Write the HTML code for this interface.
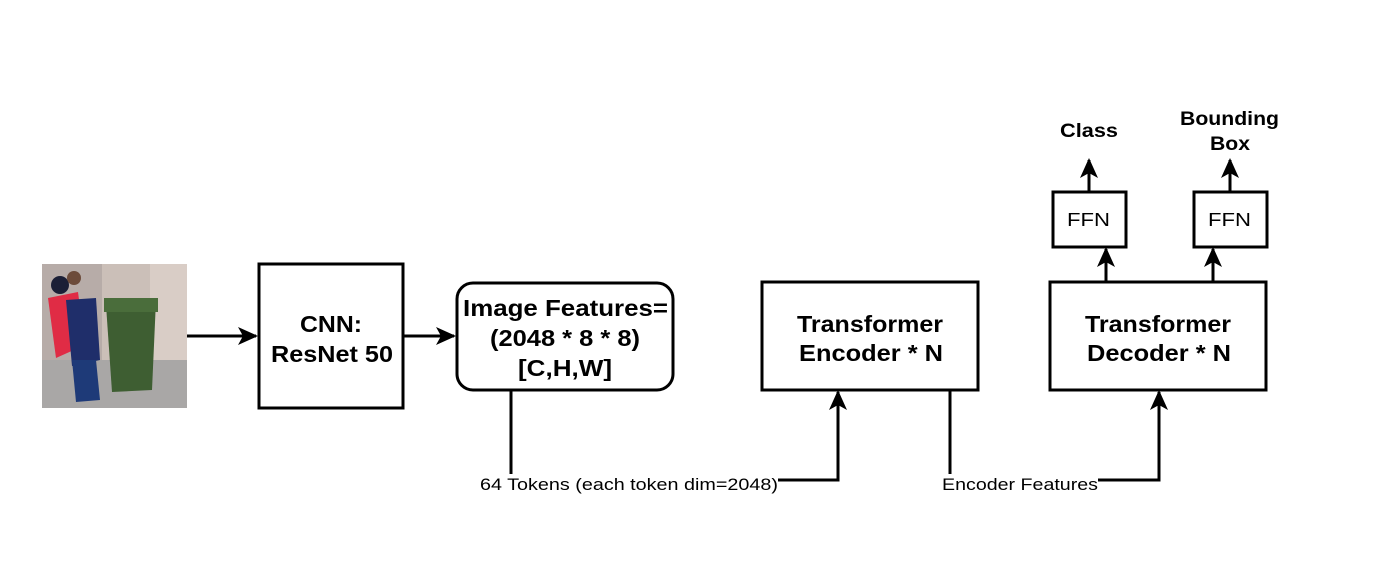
<!DOCTYPE html>
<html><head><meta charset="utf-8"><style>
body{margin:0;background:#fff;}
svg{display:block;font-family:"Liberation Sans",Arial,sans-serif;}
</style></head><body>
<svg width="1384" height="568" viewBox="0 0 1384 568">
<defs>
<marker id="b" viewBox="0 0 20 20" markerWidth="20" markerHeight="20" refX="18" refY="10" orient="auto" markerUnits="userSpaceOnUse"><path d="M0,1 L20,10 L0,19 L5,10 z" fill="#000"/></marker>
</defs>
<!-- photo -->
<rect x="42" y="264" width="145" height="144" fill="#cbbfb8"/>
<rect x="42" y="264" width="60" height="144" fill="#b7aca8"/>
<rect x="150" y="264" width="37" height="144" fill="#d9cdc6"/>
<rect x="42" y="360" width="145" height="48" fill="#a9a7a6"/>
<path d="M106,305 L156,300 L152,390 L112,392 Z" fill="#3e5e32"/>
<rect x="104" y="298" width="54" height="14" fill="#4a6d3b"/>
<path d="M48,298 L78,292 L85,345 L56,358 Z" fill="#e02c45"/>
<path d="M66,300 L96,298 L100,360 L72,366 Z" fill="#1f2e6a"/>
<circle cx="60" cy="285" r="9" fill="#1b1f36"/>
<circle cx="74" cy="278" r="7" fill="#6c4b3a"/>
<path d="M72,360 L96,360 L100,400 L76,402 Z" fill="#1e3a78"/>
<g stroke="#000" stroke-width="3" fill="none">
<line x1="187" y1="336" x2="256" y2="336" marker-end="url(#b)"/>
<line x1="403" y1="336" x2="454" y2="336" marker-end="url(#b)"/>
<polyline points="511,390 511,474"/>
<polyline points="778,480 838,480 838,392" marker-end="url(#b)"/>
<polyline points="950,390 950,474"/>
<polyline points="1098,480 1159,480 1159,392" marker-end="url(#b)"/>
<line x1="1106" y1="282" x2="1106" y2="249" marker-end="url(#b)"/>
<line x1="1213" y1="282" x2="1213" y2="249" marker-end="url(#b)"/>
<line x1="1089" y1="192" x2="1089" y2="160" marker-end="url(#b)"/>
<line x1="1230" y1="192" x2="1230" y2="160" marker-end="url(#b)"/>
<rect x="259" y="264" width="144" height="144"/>
<rect x="457" y="283" width="216" height="107" rx="16"/>
<rect x="762" y="282" width="216" height="108"/>
<rect x="1050" y="282" width="216" height="108"/>
<rect x="1053" y="192" width="73" height="55"/>
<rect x="1194" y="192" width="73" height="55"/>
</g>
<g font-weight="bold" font-size="23" fill="#000" lengthAdjust="spacingAndGlyphs">
<text x="300" y="332" textLength="62" lengthAdjust="spacingAndGlyphs">CNN:</text>
<text x="271" y="362" textLength="122" lengthAdjust="spacingAndGlyphs">ResNet 50</text>
<text x="463" y="316" textLength="205" lengthAdjust="spacingAndGlyphs">Image Features=</text>
<text x="490" y="346" textLength="150" lengthAdjust="spacingAndGlyphs">(2048 * 8 * 8)</text>
<text x="518" y="376" textLength="94" lengthAdjust="spacingAndGlyphs">[C,H,W]</text>
<text x="797" y="332" textLength="146" lengthAdjust="spacingAndGlyphs">Transformer</text>
<text x="799" y="361" textLength="144" lengthAdjust="spacingAndGlyphs">Encoder * N</text>
<text x="1085" y="332" textLength="146" lengthAdjust="spacingAndGlyphs">Transformer</text>
<text x="1087" y="361" textLength="144" lengthAdjust="spacingAndGlyphs">Decoder * N</text>
</g>
<g font-weight="bold" font-size="19">
<text x="1060" y="137" textLength="58" lengthAdjust="spacingAndGlyphs">Class</text>
<text x="1180" y="125" textLength="99" lengthAdjust="spacingAndGlyphs">Bounding</text>
<text x="1210" y="150" textLength="40" lengthAdjust="spacingAndGlyphs">Box</text>
</g>
<g font-size="18">
<text x="1067" y="226" textLength="43" lengthAdjust="spacingAndGlyphs">FFN</text>
<text x="1208" y="226" textLength="43" lengthAdjust="spacingAndGlyphs">FFN</text>
</g>
<g font-size="17">
<text x="480" y="490" textLength="298" lengthAdjust="spacingAndGlyphs">64 Tokens (each token dim=2048)</text>
<text x="942" y="490" textLength="156" lengthAdjust="spacingAndGlyphs">Encoder Features</text>
</g>
</svg>
</body></html>
